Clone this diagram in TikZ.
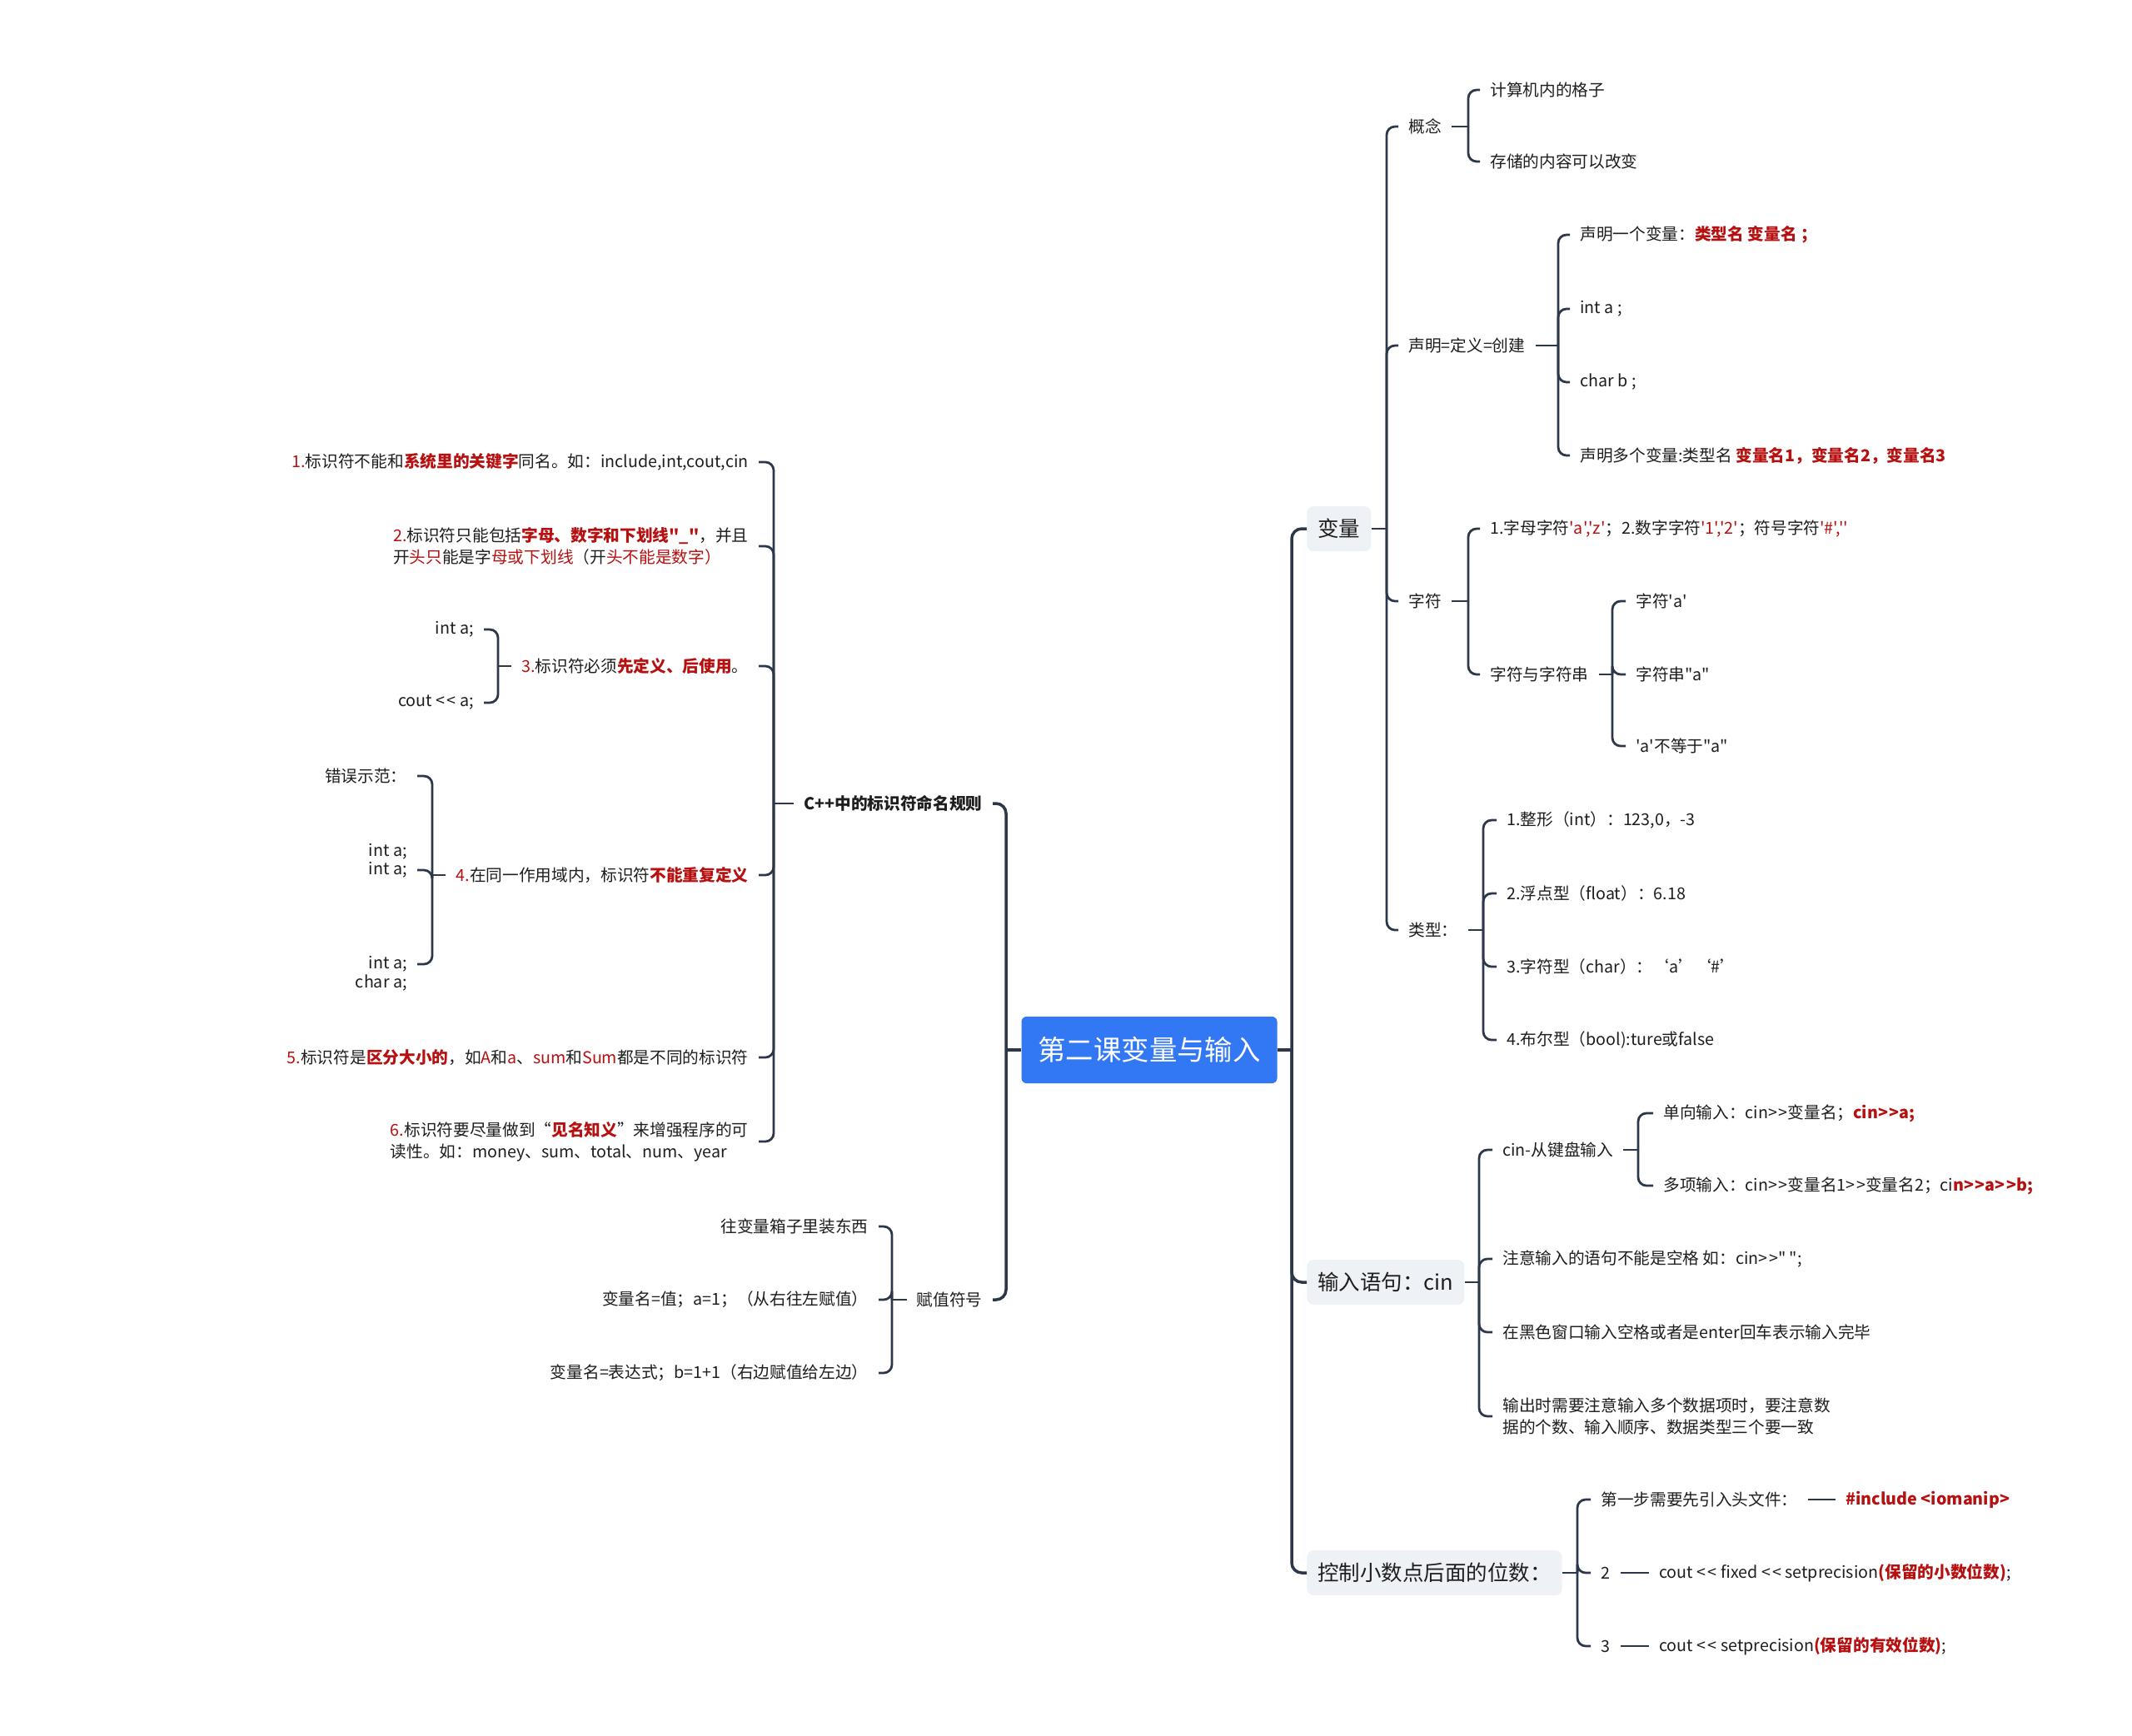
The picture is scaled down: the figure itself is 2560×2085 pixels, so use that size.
\documentclass[tikz,border=0pt]{standalone}
\usepackage{fontspec}
\newfontfamily\zh{Noto Sans CJK SC}
\definecolor{linec}{RGB}{44,56,74}
\definecolor{keyred}{RGB}{182,16,16}
\definecolor{txtc}{RGB}{30,30,30}
\definecolor{topicbg}{RGB}{238,241,245}
\definecolor{rootbg}{RGB}{50,120,245}
\newcommand{\redkw}[1]{\textcolor{keyred}{\bfseries #1}}
\newcommand{\redtx}[1]{\textcolor{keyred}{#1}}
\newcommand{\shl}{<\kern0.12em<}
\newcommand{\shr}{>\kern0.08em>}
\begin{document}
\begin{tikzpicture}[x=0.2mm, y={(0,-0.2mm)},
    item/.style={font=\zh\fontsize{11.2}{14.8}\selectfont, text=txtc, inner xsep=2.4mm, inner ysep=0.6mm},
    ritem/.style={item, anchor=west},
    litem/.style={item, anchor=east},
    topic/.style={font=\zh\fontsize{14.5}{17}\selectfont, text=txtc, fill=topicbg, rounded corners=1.6mm,
      inner xsep=2.6mm, minimum height=10.8mm, anchor=west},
    rootbox/.style={font=\zh\fontsize{19}{22}\selectfont, text=white, fill=rootbg, rounded corners=1.2mm,
      minimum width=61.4mm, minimum height=16mm},
    branch/.style={draw=linec, line width=0.55mm, rounded corners=2mm},
    trunk/.style={draw=linec, line width=0.7mm, rounded corners=2.4mm} ]
    \path[fill=white] (0,0) rectangle (2560,2085);
    \useasboundingbox (0,0) rectangle (2560,2085);
    % centre
    \node at (1380,1261) [rootbox] (root) {第二课变量与输入};
    \coordinate (rT) at (1551,1261);
    \coordinate (lT) at (1208,1261);
    % right side
    \node at (1569,635) [topic] (bl) {变量};
    \node at (1569,1540) [topic] (sr) {输入语句：cin};
    \node at (1569,1889) [topic] (kz) {控制小数点后面的位数：};
    \draw [trunk] (root.east) -- (rT);
    \foreach \c in {bl,sr,kz} \draw [trunk] (rT) |- (\c.west);
    % variable
    \coordinate (blT) at (1665,635);
    \node at (1679,152) [ritem] (gn) {概念};
    \node at (1679,415) [ritem] (sm) {声明=定义=创建};
    \node at (1679,722) [ritem] (zf) {字符};
    \node at (1679,1117) [ritem] (lx) {类型：};
    \draw [branch] (bl.east) -- (blT);
    \foreach \c in {gn,sm,zf,lx} \draw [branch] (blT) |- (\c.west);
    \coordinate (gnT) at (1763,152);
    \node at (1777,108) [ritem] (gn1) {计算机内的格子};
    \node at (1777,194) [ritem] (gn2) {存储的内容可以改变};
    \draw [branch] (gn.east) -- (gnT);
    \foreach \c in {gn1,gn2} \draw [branch] (gnT) |- (\c.west);
    \coordinate (smT) at (1871,415);
    \node at (1885,282) [ritem] (sm1) {声明一个变量：\redkw{类型名 变量名 ；}};
    \node at (1885,371) [ritem] (sm2) {int a ;};
    \node at (1885,459) [ritem] (sm3) {char b ;};
    \node at (1885,547) [ritem] (sm4) {声明多个变量:类型名 \redkw{变量名1，变量名2，变量名3}};
    \draw [branch] (sm.east) -- (smT);
    \foreach \c in {sm1,sm2,sm3,sm4} \draw [branch] (smT) |- (\c.west);
    \coordinate (zfT) at (1763,722);
    \node at (1777,635) [ritem] (zf1) {1.字母字符\redtx{'a','z'}；2.数字字符\redtx{'1','2'}；符号字符\redtx{'\#',''}};
    \node at (1777,810) [ritem] (zf2) {字符与字符串};
    \draw [branch] (zf.east) -- (zfT);
    \foreach \c in {zf1,zf2} \draw [branch] (zfT) |- (\c.west);
    \coordinate (zsT) at (1936,810);
    \node at (1952,722) [ritem] (zs1) {字符'a'};
    \node at (1952,810) [ritem] (zs2) {字符串"a"};
    \node at (1952,896) [ritem] (zs3) {'a'不等于"a"};
    \draw [branch] (zf2.east) -- (zsT);
    \foreach \c in {zs1,zs2,zs3} \draw [branch] (zsT) |- (\c.west);
    \coordinate (lxT) at (1781,1117);
    \node at (1797,985) [ritem] (lx1) {1.整形（int）：123,0，-3};
    \node at (1797,1073) [ritem] (lx2) {2.浮点型（float）：6.18};
    \node at (1797,1161) [ritem] (lx3) {3.字符型（char）：‘a’‘\#’};
    \node at (1797,1249) [ritem] (lx4) {4.布尔型（bool):ture或false};
    \draw [branch] (lx.east) -- (lxT);
    \foreach \c in {lx1,lx2,lx3,lx4} \draw [branch] (lxT) |- (\c.west);
    % input
    \coordinate (srT) at (1776,1540);
    \node at (1792,1381) [ritem] (sr1) {cin-从键盘输入};
    \node at (1792,1512) [ritem] (sr2) {注意输入的语句不能是空格 如：cin\shr{}" ";};
    \node at (1792,1600) [ritem] (sr3) {在黑色窗口输入空格或者是enter回车表示输入完毕};
    \node at (1792,1701) [ritem, align=left] (sr4) {输出时需要注意输入多个数据项时，要注意数\\据的个数、输入顺序、数据类型三个要一致};
    \draw [branch] (sr.east) -- (srT);
    \foreach \c in {sr1,sr2,sr3,sr4} \draw [branch] (srT) |- (\c.west);
    \coordinate (ciT) at (1967,1381);
    \node at (1985,1337) [ritem] (ci1) {单向输入：cin\shr{}变量名；\redkw{cin\shr{}a;}};
    \node at (1985,1424) [ritem] (ci2) {多项输入：cin\shr{}变量名1\shr{}变量名2；ci\redkw{n\shr{}a\shr{}b;}};
    \draw [branch] (sr1.east) -- (ciT);
    \foreach \c in {ci1,ci2} \draw [branch] (ciT) |- (\c.west);
    % decimals
    \coordinate (kzT) at (1894,1889);
    \node at (1910,1801) [ritem] (kz1) {第一步需要先引入头文件：};
    \node at (1910,1889) [ritem] (kz2) {2};
    \node at (1910,1977) [ritem] (kz3) {3};
    \node at (2204,1801) [ritem] (kz1a) {\redkw{\#include <iomanip>}};
    \node at (1980,1889) [ritem] (kz2a) {cout \shl{} fixed \shl{} setprecision\redkw{(保留的小数位数)};};
    \node at (1980,1977) [ritem] (kz3a) {cout \shl{} setprecision\redkw{(保留的有效位数)};};
    \draw [branch] (kz.east) -- (kzT);
    \foreach \c in {kz1,kz2,kz3} \draw [branch] (kzT) |- (\c.west);
    \draw [branch] (kz1.east) -- (kz1a.west);
    \draw [branch] (kz2.east) -- (kz2a.west);
    \draw [branch] (kz3.east) -- (kz3a.west);
    % left side
    \node at (1192,965) [litem, font=\zh\bfseries\fontsize{11.2}{14.8}\selectfont] (cp) {C++中的标识符命名规则};
    \node at (1192,1561) [litem] (fz) {赋值符号};
    \draw [trunk] (root.west) -- (lT);
    \foreach \c in {cp,fz} \draw [trunk] (lT) |- (\c.east);
    % naming rules
    \coordinate (cpT) at (929,965);
    \node at (911,555) [litem] (r1) {\redtx{1.}标识符不能和\redkw{系统里的关键字}同名。如：include,int,cout,cin};
    \node at (911,656) [litem, align=left] (r2) {\redtx{2.}标识符只能包括\redkw{字母、数字和下划线"\_"}，并且\\开\redtx{头只}能是字\redtx{母或下划线}（开\redtx{头不能是数字）}};
    \node at (911,800) [litem] (r3) {\redtx{3.}标识符必须\redkw{先定义、后使用}。};
    \node at (911,1051) [litem] (r4) {\redtx{4.}在同一作用域内，标识符\redkw{不能重复定义}};
    \node at (911,1270) [litem] (r5) {\redtx{5.}标识符是\redkw{区分大小的}，如\redtx{A}和\redtx{a}、\redtx{sum}和\redtx{Sum}都是不同的标识符};
    \node at (911,1371) [litem, align=left] (r6) {\redtx{6.}标识符要尽量做到“\redkw{见名知义}”来增强程序的可\\读性。如：money、sum、total、num、year};
    \draw [branch] (cp.west) -- (cpT);
    \foreach \c in {r1,r2,r3,r4,r5,r6} \draw [branch] (cpT) |- (\c.east);
    \coordinate (r3T) at (598,800);
    \node at (581,756) [litem] (r31) {int a;};
    \node at (581,844) [litem] (r32) {cout \shl{} a;};
    \draw [branch] (r3.west) -- (r3T);
    \foreach \c in {r31,r32} \draw [branch] (r3T) |- (\c.east);
    \coordinate (r4T) at (519,1051);
    \node at (501,932) [litem] (r41) {错误示范：};
    \node at (501,1045) [litem] (r42) {int a;};
    \node at (r42.north east) [litem, anchor=south east, inner ysep=0mm] (r42a) {int a;};
    \node at (501,1158) [litem] (r43) {int a;};
    \node at (r43.south east) [litem, anchor=north east, inner ysep=0mm] (r43a) {char a;};
    \draw [branch] (r4.west) -- (r4T);
    \foreach \c in {r41,r42,r43} \draw [branch] (r4T) |- (\c.east);
    % assignment
    \coordinate (fzT) at (1071,1561);
    \node at (1055,1473) [litem] (f1) {往变量箱子里装东西};
    \node at (1055,1561) [litem] (f2) {变量名=值；a=1；（从右往左赋值）};
    \node at (1055,1649) [litem] (f3) {变量名=表达式；b=1+1（右边赋值给左边）};
    \draw [branch] (fz.west) -- (fzT);
    \foreach \c in {f1,f2,f3} \draw [branch] (fzT) |- (\c.east);
\end{tikzpicture}
\end{document}
